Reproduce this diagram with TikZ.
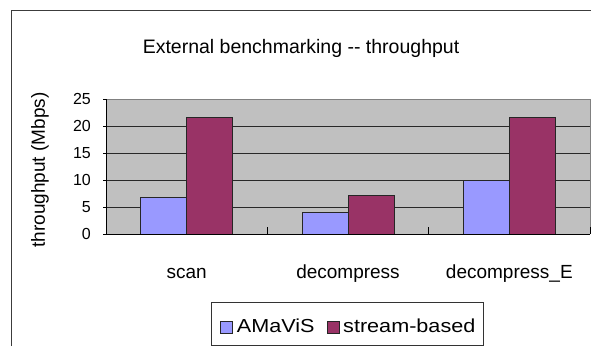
\documentclass[tikz,border=0pt]{standalone}
\usepackage{fontspec}
\setmainfont{Liberation Sans}
\newfontfamily\legendfont[FakeStretch=1.15]{Liberation Sans}
\definecolor{plotgray}{RGB}{192,192,192}
\definecolor{gridline}{RGB}{40,40,40}
\definecolor{plotborder}{RGB}{128,128,128}
\definecolor{frameline}{RGB}{60,60,60}
\definecolor{amavis}{RGB}{153,153,255}
\definecolor{stream}{RGB}{153,51,102}
\tikzset{
  gridrule/.style={draw=gridline, line width=0.9pt},
  axisrule/.style={draw=black, line width=1pt},
  barA/.style={fill=amavis, draw=black!85, line width=1pt},
  barB/.style={fill=stream, draw=black!85, line width=1pt},
  ticklabel/.style={anchor=east, inner sep=0pt, font=\fontsize{16}{18}\selectfont},
  catlabel/.style={anchor=base, inner sep=0pt, font=\fontsize{19}{22}\selectfont},
  legendtext/.style={anchor=base west, inner sep=0pt, font=\legendfont\fontsize{18.8}{22}\selectfont},
  legendkey/.style={draw=black!85, line width=0.8pt, minimum width=12pt, minimum height=12pt, inner sep=0pt}
}
\begin{document}
\begin{tikzpicture}[x=1pt,y=-1pt]
\useasboundingbox (0,0) rectangle (591,346);
\fill[white] (0,0) rectangle (591,346);

% chart area frame (open to the right and bottom)
\draw[frameline, line width=1pt] (11,346) -- (11,10.5) -- (591,10.5);

% title
\node[anchor=base, inner sep=0pt, font=\fontsize{19.5}{22}\selectfont] (title) at (301,53.3) {External benchmarking -{}- throughput};

% plot area
\fill[plotgray] (106,99) rectangle (590,234);
\foreach \v in {5,10,15,20}
  \draw[gridrule] (106,{234-5.4*\v}) -- (590,{234-5.4*\v});
\draw[draw=plotborder, line width=1pt] (106,99) -- (590,99) -- (590,234);

% bars: 3 categories of width 161.33, two bars of width 46 centred in each
\foreach \c/\a/\b [count=\i] in {186.67/6.8/21.6, 348/4.0/7.2, 509.33/10.0/21.6} {
  \draw[barA] ({\c-46},234) rectangle (\c,{234-5.4*\a});
  \draw[barB] (\c,234) rectangle ({\c+46},{234-5.4*\b});
}

% axes and tick marks
\draw[axisrule] (106,99) -- (106,234) -- (590,234);
\foreach \v in {0,5,...,25}
  \draw[axisrule] (103,{234-5.4*\v}) -- (106,{234-5.4*\v});
\foreach \x in {106,267.33,428.67,590}
  \draw[axisrule] (\x,234) -- (\x,227);

% value axis labels
\foreach \v in {0,5,...,25}
  \node[ticklabel] (y\v) at (91,{234-5.4*\v}) {\v};
\node[rotate=90, inner sep=0pt, font=\fontsize{19}{22}\selectfont] (ytitle) at (40,170) {throughput (Mbps)};

% category labels
\node[catlabel] (cat1) at (186.67,278) {scan};
\node[catlabel] (cat2) at (348,278) {decompress};
\node[catlabel] (cat3) at (509.33,278) {decompress\_E};

% legend
\draw[draw=black!80, line width=1pt] (211,302.5) rectangle (483,345);
\node[legendkey, fill=amavis] (keyA) at (226.3,327.5) {};
\node[legendtext] (legA) at (236.7,332.7) {AMaViS};
\node[legendkey, fill=stream] (keyB) at (333.3,327.5) {};
\node[legendtext] (legB) at (343,332.7) {stream-based};
\end{tikzpicture}
\end{document}
